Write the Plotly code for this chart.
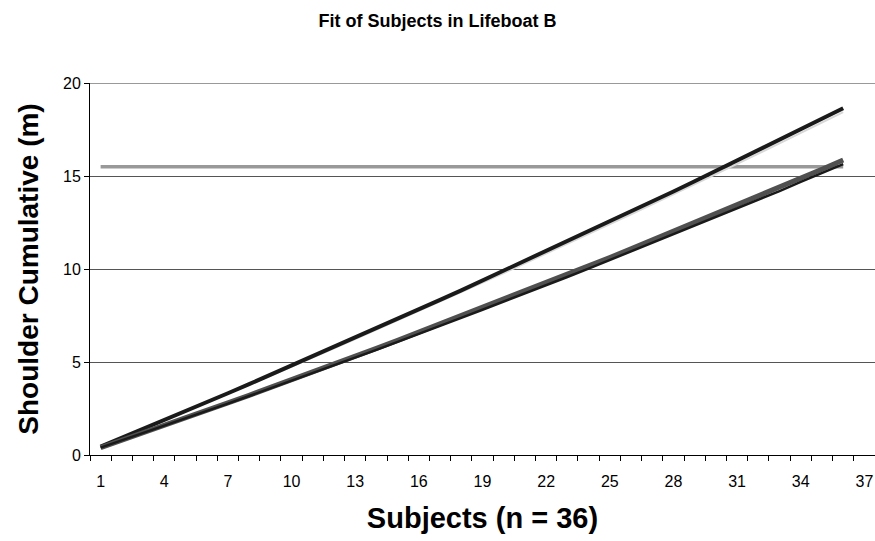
import plotly.graph_objects as go

subjects = list(range(1, 37))

# Cumulative shoulder width (m)
upper_a = [0.45, 0.92, 1.39, 1.88, 2.36, 2.84, 3.32, 3.81, 4.31, 4.80, 5.30, 5.79,
           6.30, 6.80, 7.32, 7.82, 8.34, 8.85, 9.38, 9.90, 10.42, 10.95, 11.48, 12.01,
           12.55, 13.09, 13.63, 14.17, 14.72, 15.28, 15.83, 16.38, 16.94, 17.51, 18.07, 18.64]
upper_b = [0.45, 0.92, 1.38, 1.86, 2.34, 2.81, 3.29, 3.77, 4.26, 4.74, 5.24, 5.73,
           6.23, 6.73, 7.23, 7.73, 8.25, 8.75, 9.27, 9.78, 10.30, 10.83, 11.35, 11.88,
           12.40, 12.94, 13.48, 14.01, 14.56, 15.10, 15.65, 16.20, 16.75, 17.31, 17.86, 18.43]
lower_c = [0.40, 0.79, 1.19, 1.59, 1.99, 2.39, 2.80, 3.21, 3.62, 4.04, 4.46, 4.88,
           5.31, 5.73, 6.16, 6.60, 7.03, 7.47, 7.91, 8.36, 8.80, 9.25, 9.71, 10.16,
           10.62, 11.08, 11.55, 12.01, 12.48, 12.96, 13.43, 13.91, 14.39, 14.88, 15.36, 15.86]
lower_d = [0.40, 0.79, 1.17, 1.57, 1.97, 2.37, 2.76, 3.17, 3.58, 3.98, 4.40, 4.82,
           5.23, 5.65, 6.08, 6.50, 6.93, 7.37, 7.81, 8.24, 8.68, 9.13, 9.57, 10.02,
           10.48, 10.94, 11.39, 11.85, 12.32, 12.78, 13.25, 13.73, 14.19, 14.68, 15.16, 15.64]
boat_length = [15.5] * 36

x_tick_vals = list(range(1, 38, 3))
x_tick_text = [str(v) for v in x_tick_vals]

FONT = "Liberation Sans, Arial, sans-serif"

fig = go.Figure()
fig.add_trace(go.Scatter(x=subjects, y=boat_length, mode="lines",
                         line=dict(color="#999999", width=3.5), name="Lifeboat"))
fig.add_trace(go.Scatter(x=subjects, y=upper_b, mode="lines",
                         line=dict(color="#d8d8d8", width=2), name="B"))
fig.add_trace(go.Scatter(x=subjects, y=upper_a, mode="lines",
                         line=dict(color="#1a1a1a", width=4), name="A"))
fig.add_trace(go.Scatter(x=subjects, y=lower_c, mode="lines",
                         line=dict(color="#505050", width=5), name="C"))
fig.add_trace(go.Scatter(x=subjects, y=lower_d, mode="lines",
                         line=dict(color="#1a1a1a", width=2.5), name="D"))

fig.update_layout(
    width=875, height=541,
    margin=dict(l=90, r=0, t=83, b=86),
    paper_bgcolor="white", plot_bgcolor="white",
    showlegend=False,
    font=dict(family=FONT, color="black"),
    title=dict(text="<b>Fit of Subjects in Lifeboat B</b>", x=0.5, xanchor="center",
               y=0.962, yanchor="middle", font=dict(size=18, family=FONT, color="black")),
    xaxis=dict(range=[0.5, 37.5], tickvals=x_tick_vals, ticktext=x_tick_text,
               ticks="outside", ticklen=12, tickcolor="rgba(0,0,0,0)",
               showgrid=False, zeroline=False,
               showline=True, linecolor="black", linewidth=1,
               tickfont=dict(size=16, family=FONT, color="black"),
               minor=dict(ticks="outside", tick0=0.5, dtick=1, ticklen=5,
                          tickcolor="black", tickwidth=1, showgrid=False),
               title=dict(text="<b>Subjects (n = 36)</b>", standoff=18,
                          font=dict(size=29, family=FONT, color="black"))),
    yaxis=dict(range=[0, 20], tickvals=[0, 5, 10, 15, 20], ticks="outside", ticklen=5,
               tickcolor="black", showgrid=True, gridcolor="#555555", gridwidth=1,
               zeroline=False, showline=True, linecolor="black", linewidth=1,
               tickfont=dict(size=16, family=FONT, color="black"),
               title=dict(text="<b>Shoulder Cumulative (m)</b>", standoff=16,
                          font=dict(size=28, family=FONT, color="black"))),
    shapes=[dict(type="line", xref="paper", yref="y", x0=0, x1=1, y0=20, y1=20,
                 line=dict(color="#999999", width=2), layer="above")],
)

fig.write_html("out.html", config={"displayModeBar": False},
               post_script="document.body.style.margin='0';")
